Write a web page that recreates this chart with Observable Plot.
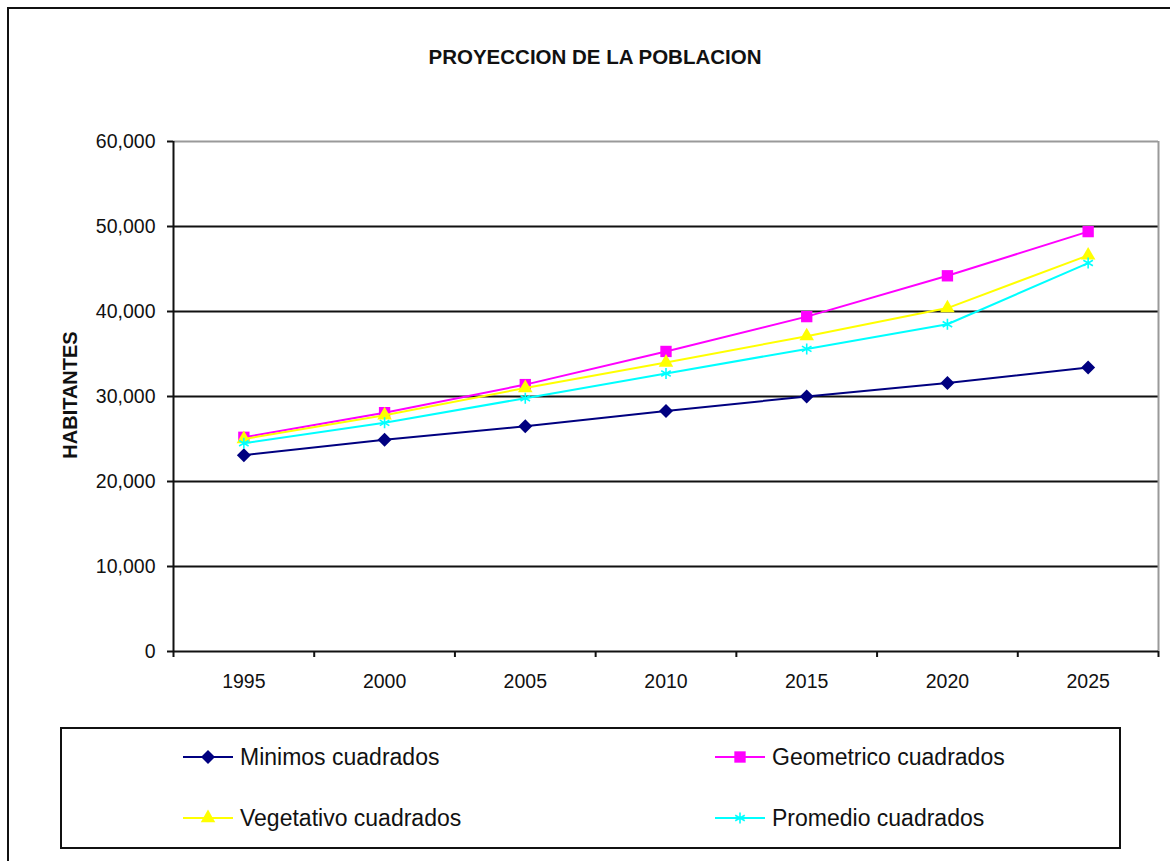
<!DOCTYPE html>
<html>
<head>
<meta charset="utf-8">
<script src="https://cdn.jsdelivr.net/npm/d3@7"></script>
<script src="https://cdn.jsdelivr.net/npm/@observablehq/plot@0.6"></script>
<style>
  html, body { margin: 0; padding: 0; background: #fff; }
  #wrap { position: relative; width: 1170px; height: 861px; overflow: hidden; background: #fff;
          font-family: "Liberation Sans", Arial, sans-serif; color: #111; }
  #outer { position: absolute; left: 7px; top: 7px; width: 1300px; height: 1000px; border: 2px solid #111; box-sizing: border-box; }
  #title { position: absolute; left: 0; width: 1190px; top: 45px; text-align: center; font-weight: bold; font-size: 20.5px; line-height: 24px; }
  #ylabel { position: absolute; left: 70px; top: 395px; transform: translate(-50%, -50%) rotate(-90deg); font-weight: bold; font-size: 20px; white-space: nowrap; }
  #chart { position: absolute; left: 0; top: 100px; }
  #legend { position: absolute; left: 60px; top: 727px; width: 1061px; height: 122px; border: 2px solid #111; box-sizing: border-box; }
  .item { position: absolute; display: flex; align-items: center; font-size: 23px; height: 30px; }
  .item svg { display: block; margin-right: 5px; }
</style>
</head>
<body>
<div id="wrap">
  <div id="outer"></div>
  <div id="title">PROYECCION DE LA POBLACION</div>
  <div id="ylabel">HABITANTES</div>
  <div id="chart"></div>
  <div id="legend"></div>
</div>
<script>
// ---- data ----
const years = [1995, 2000, 2005, 2010, 2015, 2020, 2025];
const minimos    = [23100, 24900, 26500, 28300, 30000, 31600, 33400];
const geometrico = [25200, 28100, 31400, 35300, 39400, 44200, 49400];
const vegetativo = [25000, 27800, 31000, 34000, 37100, 40400, 46600];
const promedio   = [24500, 26900, 29800, 32700, 35600, 38500, 45700];
const seriesNames = ["Minimos cuadrados", "Geometrico cuadrados", "Vegetativo cuadrados", "Promedio cuadrados"];
const seriesValues = [minimos, geometrico, vegetativo, promedio];
const seriesColors = ["#000080", "#FF00FF", "#FFFF00", "#00FFFF"];
const seriesSymbols = ["diamond2", "square", "triangle", "asterisk"];
const yTicks = [0, 10000, 20000, 30000, 40000, 50000, 60000];
const gridTicks = [10000, 20000, 30000, 40000, 50000];
const xBoundaries = [1992.5, 1997.5, 2002.5, 2007.5, 2012.5, 2017.5, 2022.5, 2027.5];

const table = [];
seriesNames.forEach((name, i) => {
  years.forEach((yr, j) => table.push({series: name, year: yr, value: seriesValues[i][j]}));
});

const symbolR = {"diamond2": 6.3, "square": 6.4, "triangle": 5.4, "asterisk": 5.2};

const marks = [
  Plot.ruleY(gridTicks, {stroke: "#111", strokeWidth: 2}),
  Plot.ruleY([60000], {stroke: "#9a9a9a", strokeWidth: 2}),
  Plot.ruleX([2027.5], {stroke: "#9a9a9a", strokeWidth: 2}),
  Plot.ruleX([1992.5], {stroke: "#111", strokeWidth: 2}),
  Plot.ruleY([0], {stroke: "#111", strokeWidth: 2}),
  Plot.axisY({ticks: yTicks, tickFormat: d3.format(","), tickSize: 6, tickPadding: 12, strokeWidth: 2, label: null}),
  Plot.axisX({ticks: xBoundaries, tickFormat: () => "", tickSize: 6, strokeWidth: 2, label: null}),
  Plot.axisX({ticks: years, tickFormat: d => String(d), tickSize: 0, tickPadding: 23, label: null})
];
seriesNames.forEach((name, i) => {
  const d = table.filter(r => r.series === name);
  marks.push(Plot.line(d, {x: "year", y: "value", stroke: seriesColors[i], strokeWidth: 2}));
  const sym = seriesSymbols[i];
  if (sym === "asterisk") {
    marks.push(Plot.dot(d, {x: "year", y: "value", symbol: sym, stroke: seriesColors[i], strokeWidth: 1.6, r: symbolR[sym]}));
  } else {
    marks.push(Plot.dot(d, {x: "year", y: "value", symbol: sym, fill: seriesColors[i], stroke: "none", r: symbolR[sym]}));
  }
});

const chart = Plot.plot({
  width: 1170,
  height: 600,
  marginLeft: 173,
  marginRight: 12,
  marginTop: 41,
  marginBottom: 49,
  x: {type: "linear", domain: [1992.5, 2027.5]},
  y: {type: "linear", domain: [0, 60000]},
  style: {fontFamily: "'Liberation Sans', Arial, sans-serif", fontSize: "19.5px", color: "#111", background: "transparent", overflow: "visible"},
  marks
});
document.getElementById("chart").appendChild(chart);

// ---- legend ----
const legend = document.getElementById("legend");
const legendPos = [[119, 28], [651, 28], [119, 89], [651, 89]];
seriesNames.forEach((name, i) => {
  const item = document.createElement("div");
  item.className = "item";
  item.style.left = legendPos[i][0] + "px";
  item.style.top = (legendPos[i][1] - 15) + "px";
  const svg = d3.create("svg").attr("width", 54).attr("height", 20);
  svg.append("line").attr("x1", 2).attr("x2", 52).attr("y1", 10).attr("y2", 10)
     .attr("stroke", seriesColors[i]).attr("stroke-width", 2);
  const symMap = {diamond2: d3.symbolDiamond2, square: d3.symbolSquare, triangle: d3.symbolTriangle, asterisk: d3.symbolAsterisk};
  const r = symbolR[seriesSymbols[i]];
  const path = svg.append("path").attr("transform", "translate(27,10)")
     .attr("d", d3.symbol(symMap[seriesSymbols[i]], Math.PI * r * r)());
  if (seriesSymbols[i] === "asterisk") path.attr("stroke", seriesColors[i]).attr("fill", "none").attr("stroke-width", 1.6);
  else path.attr("fill", seriesColors[i]);
  item.appendChild(svg.node());
  const span = document.createElement("span");
  span.textContent = name;
  item.appendChild(span);
  legend.appendChild(item);
});
</script>
</body>
</html>
